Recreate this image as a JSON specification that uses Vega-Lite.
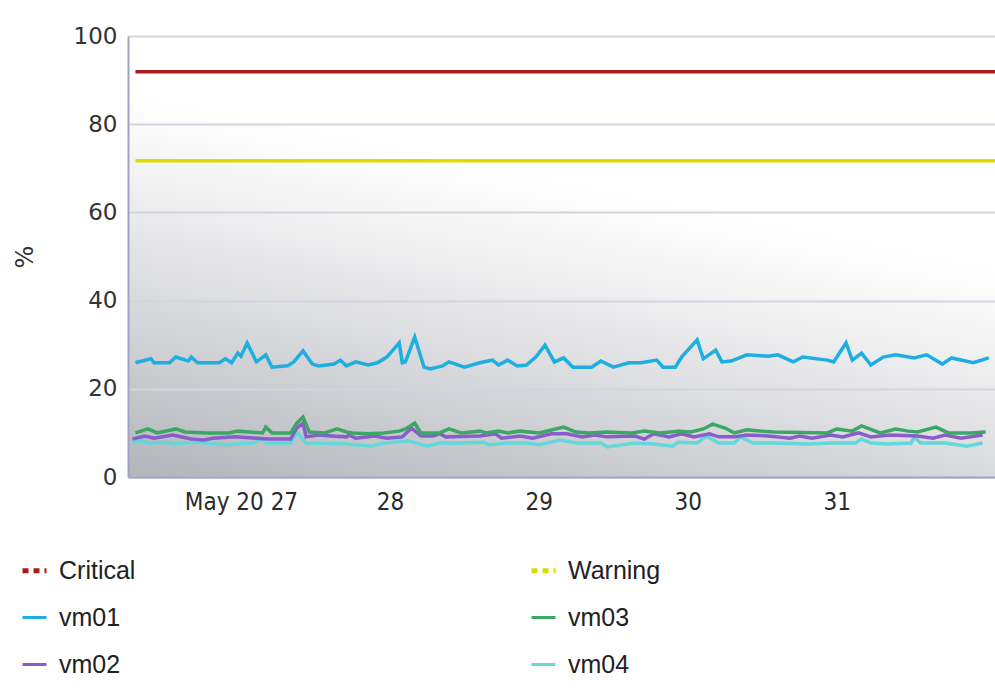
{
  "$schema": "https://vega.github.io/schema/vega-lite/v6.json",
  "width": 867,
  "height": 441,
  "autosize": {"type": "none"},
  "padding": {"left": 128, "top": 36, "right": 0, "bottom": 215},
  "background": "white",
  "config": {
    "view": {
      "stroke": null,
      "fill": {"gradient": "linear", "x1": 0, "y1": 1, "x2": 0.4, "y2": 0,
        "stops": [
          {"offset": 0, "color": "#b2b5bb"},
          {"offset": 0.35, "color": "#d9dadd"},
          {"offset": 0.6, "color": "#f3f3f4"},
          {"offset": 0.75, "color": "#ffffff"}
        ]}
    },
    "font": "Liberation Sans"
  },
  "data": {"values": [
    {"s":"Critical","t":"2027-05-26T07:00","v":91.9},{"s":"Critical","t":"2027-06-01T01:30","v":91.9},
    {"s":"Warning","t":"2027-05-26T07:00","v":71.7},{"s":"Warning","t":"2027-06-01T01:30","v":71.7},
    {"s":"vm04","t":"2027-05-26T06:30","v":7.7},{"s":"vm04","t":"2027-05-26T08:00","v":8.2},{"s":"vm04","t":"2027-05-26T09:30","v":7.7},{"s":"vm04","t":"2027-05-26T12:00","v":7.9},{"s":"vm04","t":"2027-05-26T13:00","v":7.5},{"s":"vm04","t":"2027-05-26T16:00","v":7.9},{"s":"vm04","t":"2027-05-26T18:30","v":7.7},{"s":"vm04","t":"2027-05-26T21:30","v":7.3},
    {"s":"vm04","t":"2027-05-27T02:00","v":7.7},{"s":"vm04","t":"2027-05-27T03:30","v":8.6},{"s":"vm04","t":"2027-05-27T04:00","v":7.7},{"s":"vm04","t":"2027-05-27T08:00","v":7.7},{"s":"vm04","t":"2027-05-27T09:00","v":10.2},{"s":"vm04","t":"2027-05-27T10:30","v":7.7},{"s":"vm04","t":"2027-05-27T17:00","v":7.5},{"s":"vm04","t":"2027-05-27T21:00","v":7.0},{"s":"vm04","t":"2027-05-27T23:00","v":7.7},
    {"s":"vm04","t":"2027-05-28T03:00","v":8.2},{"s":"vm04","t":"2027-05-28T06:00","v":7.0},{"s":"vm04","t":"2027-05-28T08:00","v":7.7},{"s":"vm04","t":"2027-05-28T11:30","v":7.7},{"s":"vm04","t":"2027-05-28T15:00","v":7.9},{"s":"vm04","t":"2027-05-28T16:00","v":7.3},{"s":"vm04","t":"2027-05-28T19:00","v":7.7},{"s":"vm04","t":"2027-05-28T22:00","v":7.7},
    {"s":"vm04","t":"2027-05-29T00:00","v":7.3},{"s":"vm04","t":"2027-05-29T02:00","v":7.9},{"s":"vm04","t":"2027-05-29T03:30","v":8.4},{"s":"vm04","t":"2027-05-29T06:00","v":7.7},{"s":"vm04","t":"2027-05-29T10:00","v":7.7},{"s":"vm04","t":"2027-05-29T11:00","v":6.8},{"s":"vm04","t":"2027-05-29T15:30","v":7.7},{"s":"vm04","t":"2027-05-29T18:30","v":7.5},{"s":"vm04","t":"2027-05-29T21:30","v":7.0},{"s":"vm04","t":"2027-05-29T22:30","v":7.9},
    {"s":"vm04","t":"2027-05-30T01:30","v":7.7},{"s":"vm04","t":"2027-05-30T03:00","v":9.3},{"s":"vm04","t":"2027-05-30T05:00","v":7.7},{"s":"vm04","t":"2027-05-30T07:30","v":7.7},{"s":"vm04","t":"2027-05-30T08:30","v":9.1},{"s":"vm04","t":"2027-05-30T10:30","v":7.7},{"s":"vm04","t":"2027-05-30T14:00","v":7.7},{"s":"vm04","t":"2027-05-30T19:30","v":7.5},{"s":"vm04","t":"2027-05-30T23:00","v":7.7},
    {"s":"vm04","t":"2027-05-31T03:00","v":7.7},{"s":"vm04","t":"2027-05-31T04:00","v":8.6},{"s":"vm04","t":"2027-05-31T05:30","v":7.7},{"s":"vm04","t":"2027-05-31T08:00","v":7.5},{"s":"vm04","t":"2027-05-31T12:00","v":7.7},{"s":"vm04","t":"2027-05-31T12:30","v":9.1},{"s":"vm04","t":"2027-05-31T13:30","v":7.7},{"s":"vm04","t":"2027-05-31T17:30","v":7.7},{"s":"vm04","t":"2027-05-31T21:00","v":7.0},{"s":"vm04","t":"2027-05-31T23:30","v":7.7},
    {"s":"vm02","t":"2027-05-26T06:30","v":8.6},{"s":"vm02","t":"2027-05-26T08:30","v":9.3},{"s":"vm02","t":"2027-05-26T10:00","v":8.8},{"s":"vm02","t":"2027-05-26T13:00","v":9.5},{"s":"vm02","t":"2027-05-26T16:00","v":8.6},{"s":"vm02","t":"2027-05-26T18:00","v":8.4},{"s":"vm02","t":"2027-05-26T19:30","v":8.8},{"s":"vm02","t":"2027-05-26T23:00","v":9.1},
    {"s":"vm02","t":"2027-05-27T02:30","v":8.8},{"s":"vm02","t":"2027-05-27T04:30","v":8.6},{"s":"vm02","t":"2027-05-27T08:00","v":8.6},{"s":"vm02","t":"2027-05-27T09:00","v":11.1},{"s":"vm02","t":"2027-05-27T10:00","v":12.2},{"s":"vm02","t":"2027-05-27T10:30","v":9.1},{"s":"vm02","t":"2027-05-27T12:30","v":9.5},{"s":"vm02","t":"2027-05-27T14:30","v":9.3},{"s":"vm02","t":"2027-05-27T17:00","v":9.1},{"s":"vm02","t":"2027-05-27T17:30","v":9.5},{"s":"vm02","t":"2027-05-27T18:30","v":8.8},{"s":"vm02","t":"2027-05-27T21:30","v":9.3},{"s":"vm02","t":"2027-05-27T23:30","v":8.8},
    {"s":"vm02","t":"2027-05-28T02:00","v":9.1},{"s":"vm02","t":"2027-05-28T03:30","v":11.1},{"s":"vm02","t":"2027-05-28T05:00","v":9.3},{"s":"vm02","t":"2027-05-28T07:00","v":9.3},{"s":"vm02","t":"2027-05-28T08:00","v":9.8},{"s":"vm02","t":"2027-05-28T09:00","v":9.1},{"s":"vm02","t":"2027-05-28T14:30","v":9.3},{"s":"vm02","t":"2027-05-28T17:00","v":9.8},{"s":"vm02","t":"2027-05-28T18:00","v":8.8},{"s":"vm02","t":"2027-05-28T21:00","v":9.3},{"s":"vm02","t":"2027-05-28T23:00","v":8.8},
    {"s":"vm02","t":"2027-05-29T02:00","v":9.8},{"s":"vm02","t":"2027-05-29T04:30","v":9.8},{"s":"vm02","t":"2027-05-29T07:00","v":9.1},{"s":"vm02","t":"2027-05-29T09:00","v":9.5},{"s":"vm02","t":"2027-05-29T11:00","v":9.1},{"s":"vm02","t":"2027-05-29T15:30","v":9.3},{"s":"vm02","t":"2027-05-29T17:00","v":8.6},{"s":"vm02","t":"2027-05-29T18:30","v":9.8},{"s":"vm02","t":"2027-05-29T21:00","v":9.1},{"s":"vm02","t":"2027-05-29T23:00","v":9.8},
    {"s":"vm02","t":"2027-05-30T01:00","v":9.1},{"s":"vm02","t":"2027-05-30T03:30","v":9.8},{"s":"vm02","t":"2027-05-30T05:00","v":9.1},{"s":"vm02","t":"2027-05-30T07:30","v":9.1},{"s":"vm02","t":"2027-05-30T09:30","v":9.5},{"s":"vm02","t":"2027-05-30T13:00","v":9.3},{"s":"vm02","t":"2027-05-30T16:30","v":8.8},{"s":"vm02","t":"2027-05-30T18:00","v":9.3},{"s":"vm02","t":"2027-05-30T20:00","v":8.8},{"s":"vm02","t":"2027-05-30T23:00","v":9.5},
    {"s":"vm02","t":"2027-05-31T01:00","v":9.1},{"s":"vm02","t":"2027-05-31T03:30","v":10.0},{"s":"vm02","t":"2027-05-31T05:30","v":9.1},{"s":"vm02","t":"2027-05-31T08:30","v":9.5},{"s":"vm02","t":"2027-05-31T13:00","v":9.3},{"s":"vm02","t":"2027-05-31T15:30","v":8.8},{"s":"vm02","t":"2027-05-31T17:30","v":9.5},{"s":"vm02","t":"2027-05-31T20:00","v":8.8},{"s":"vm02","t":"2027-05-31T23:30","v":9.5},
    {"s":"vm03","t":"2027-05-26T07:00","v":10.0},{"s":"vm03","t":"2027-05-26T09:00","v":10.9},{"s":"vm03","t":"2027-05-26T10:30","v":10.0},{"s":"vm03","t":"2027-05-26T13:30","v":10.9},{"s":"vm03","t":"2027-05-26T15:00","v":10.2},{"s":"vm03","t":"2027-05-26T18:30","v":10.0},{"s":"vm03","t":"2027-05-26T22:00","v":10.0},{"s":"vm03","t":"2027-05-26T23:30","v":10.4},
    {"s":"vm03","t":"2027-05-27T03:30","v":10.0},{"s":"vm03","t":"2027-05-27T04:00","v":11.3},{"s":"vm03","t":"2027-05-27T05:00","v":10.0},{"s":"vm03","t":"2027-05-27T08:00","v":10.0},{"s":"vm03","t":"2027-05-27T09:00","v":12.2},{"s":"vm03","t":"2027-05-27T10:00","v":13.6},{"s":"vm03","t":"2027-05-27T11:00","v":10.2},{"s":"vm03","t":"2027-05-27T13:30","v":10.0},{"s":"vm03","t":"2027-05-27T15:30","v":10.9},{"s":"vm03","t":"2027-05-27T17:00","v":10.2},{"s":"vm03","t":"2027-05-27T18:00","v":10.0},{"s":"vm03","t":"2027-05-27T20:30","v":9.8},{"s":"vm03","t":"2027-05-27T23:00","v":10.0},
    {"s":"vm03","t":"2027-05-28T01:30","v":10.4},{"s":"vm03","t":"2027-05-28T02:30","v":10.9},{"s":"vm03","t":"2027-05-28T04:00","v":12.2},{"s":"vm03","t":"2027-05-28T05:00","v":10.0},{"s":"vm03","t":"2027-05-28T08:00","v":10.0},{"s":"vm03","t":"2027-05-28T09:30","v":10.9},{"s":"vm03","t":"2027-05-28T11:30","v":10.0},{"s":"vm03","t":"2027-05-28T14:30","v":10.4},{"s":"vm03","t":"2027-05-28T15:30","v":10.0},{"s":"vm03","t":"2027-05-28T17:30","v":10.4},{"s":"vm03","t":"2027-05-28T19:00","v":10.0},{"s":"vm03","t":"2027-05-28T21:00","v":10.4},
    {"s":"vm03","t":"2027-05-29T00:00","v":10.0},{"s":"vm03","t":"2027-05-29T04:00","v":11.3},{"s":"vm03","t":"2027-05-29T06:00","v":10.2},{"s":"vm03","t":"2027-05-29T08:00","v":10.0},{"s":"vm03","t":"2027-05-29T11:00","v":10.2},{"s":"vm03","t":"2027-05-29T15:00","v":10.0},{"s":"vm03","t":"2027-05-29T17:00","v":10.4},{"s":"vm03","t":"2027-05-29T19:30","v":10.0},{"s":"vm03","t":"2027-05-29T22:30","v":10.4},
    {"s":"vm03","t":"2027-05-30T00:30","v":10.2},{"s":"vm03","t":"2027-05-30T02:30","v":10.9},{"s":"vm03","t":"2027-05-30T04:00","v":12.0},{"s":"vm03","t":"2027-05-30T06:00","v":11.1},{"s":"vm03","t":"2027-05-30T07:30","v":10.0},{"s":"vm03","t":"2027-05-30T09:30","v":10.7},{"s":"vm03","t":"2027-05-30T12:00","v":10.4},{"s":"vm03","t":"2027-05-30T14:00","v":10.2},{"s":"vm03","t":"2027-05-30T22:30","v":10.0},
    {"s":"vm03","t":"2027-05-31T00:00","v":10.9},{"s":"vm03","t":"2027-05-31T02:30","v":10.4},{"s":"vm03","t":"2027-05-31T04:00","v":11.6},{"s":"vm03","t":"2027-05-31T07:00","v":10.0},{"s":"vm03","t":"2027-05-31T09:30","v":10.9},{"s":"vm03","t":"2027-05-31T11:30","v":10.4},{"s":"vm03","t":"2027-05-31T13:00","v":10.2},{"s":"vm03","t":"2027-05-31T16:00","v":11.3},{"s":"vm03","t":"2027-05-31T18:00","v":10.0},{"s":"vm03","t":"2027-05-31T21:30","v":10.0},{"s":"vm03","t":"2027-06-01T00:00","v":10.2},
    {"s":"vm01","t":"2027-05-26T07:00","v":25.9},{"s":"vm01","t":"2027-05-26T09:30","v":26.8},{"s":"vm01","t":"2027-05-26T10:00","v":25.9},{"s":"vm01","t":"2027-05-26T12:30","v":25.9},{"s":"vm01","t":"2027-05-26T13:30","v":27.2},{"s":"vm01","t":"2027-05-26T15:30","v":26.3},{"s":"vm01","t":"2027-05-26T16:00","v":27.2},{"s":"vm01","t":"2027-05-26T17:00","v":25.9},{"s":"vm01","t":"2027-05-26T20:30","v":25.9},{"s":"vm01","t":"2027-05-26T21:30","v":26.8},{"s":"vm01","t":"2027-05-26T22:30","v":25.9},{"s":"vm01","t":"2027-05-26T23:30","v":28.1},
    {"s":"vm01","t":"2027-05-27T00:00","v":27.4},{"s":"vm01","t":"2027-05-27T01:00","v":30.4},{"s":"vm01","t":"2027-05-27T02:30","v":26.1},{"s":"vm01","t":"2027-05-27T04:00","v":27.7},{"s":"vm01","t":"2027-05-27T05:00","v":24.9},{"s":"vm01","t":"2027-05-27T07:30","v":25.2},{"s":"vm01","t":"2027-05-27T08:30","v":26.1},{"s":"vm01","t":"2027-05-27T10:00","v":28.6},{"s":"vm01","t":"2027-05-27T11:30","v":25.6},{"s":"vm01","t":"2027-05-27T12:30","v":25.2},{"s":"vm01","t":"2027-05-27T15:00","v":25.6},{"s":"vm01","t":"2027-05-27T16:00","v":26.5},{"s":"vm01","t":"2027-05-27T17:00","v":25.2},{"s":"vm01","t":"2027-05-27T18:30","v":26.1},{"s":"vm01","t":"2027-05-27T20:30","v":25.4},{"s":"vm01","t":"2027-05-27T22:00","v":25.9},{"s":"vm01","t":"2027-05-27T23:30","v":27.2},
    {"s":"vm01","t":"2027-05-28T01:30","v":30.4},{"s":"vm01","t":"2027-05-28T02:00","v":25.9},{"s":"vm01","t":"2027-05-28T02:30","v":26.1},{"s":"vm01","t":"2027-05-28T04:00","v":31.7},{"s":"vm01","t":"2027-05-28T05:30","v":24.9},{"s":"vm01","t":"2027-05-28T06:30","v":24.5},{"s":"vm01","t":"2027-05-28T08:30","v":25.2},{"s":"vm01","t":"2027-05-28T09:30","v":26.1},{"s":"vm01","t":"2027-05-28T12:00","v":24.9},{"s":"vm01","t":"2027-05-28T14:30","v":25.9},{"s":"vm01","t":"2027-05-28T16:30","v":26.5},{"s":"vm01","t":"2027-05-28T17:30","v":25.4},{"s":"vm01","t":"2027-05-28T19:00","v":26.5},{"s":"vm01","t":"2027-05-28T20:30","v":25.2},{"s":"vm01","t":"2027-05-28T22:00","v":25.4},{"s":"vm01","t":"2027-05-28T23:30","v":27.2},
    {"s":"vm01","t":"2027-05-29T01:00","v":29.9},{"s":"vm01","t":"2027-05-29T02:30","v":26.1},{"s":"vm01","t":"2027-05-29T04:00","v":27.0},{"s":"vm01","t":"2027-05-29T05:30","v":24.9},{"s":"vm01","t":"2027-05-29T08:30","v":24.9},{"s":"vm01","t":"2027-05-29T10:00","v":26.3},{"s":"vm01","t":"2027-05-29T12:00","v":24.9},{"s":"vm01","t":"2027-05-29T14:30","v":25.9},{"s":"vm01","t":"2027-05-29T16:30","v":25.9},{"s":"vm01","t":"2027-05-29T19:00","v":26.5},{"s":"vm01","t":"2027-05-29T20:00","v":24.9},{"s":"vm01","t":"2027-05-29T22:00","v":24.9},{"s":"vm01","t":"2027-05-29T23:00","v":27.2},
    {"s":"vm01","t":"2027-05-30T01:30","v":31.1},{"s":"vm01","t":"2027-05-30T02:30","v":26.8},{"s":"vm01","t":"2027-05-30T04:30","v":28.8},{"s":"vm01","t":"2027-05-30T05:30","v":26.1},{"s":"vm01","t":"2027-05-30T07:00","v":26.3},{"s":"vm01","t":"2027-05-30T09:30","v":27.7},{"s":"vm01","t":"2027-05-30T13:00","v":27.4},{"s":"vm01","t":"2027-05-30T14:30","v":27.7},{"s":"vm01","t":"2027-05-30T17:00","v":26.1},{"s":"vm01","t":"2027-05-30T18:30","v":27.2},{"s":"vm01","t":"2027-05-30T22:30","v":26.5},{"s":"vm01","t":"2027-05-30T23:30","v":26.1},
    {"s":"vm01","t":"2027-05-31T01:30","v":30.4},{"s":"vm01","t":"2027-05-31T02:30","v":26.5},{"s":"vm01","t":"2027-05-31T04:00","v":28.1},{"s":"vm01","t":"2027-05-31T05:30","v":25.4},{"s":"vm01","t":"2027-05-31T07:30","v":27.2},{"s":"vm01","t":"2027-05-31T09:30","v":27.7},{"s":"vm01","t":"2027-05-31T12:30","v":27.0},{"s":"vm01","t":"2027-05-31T14:30","v":27.7},{"s":"vm01","t":"2027-05-31T17:00","v":25.6},{"s":"vm01","t":"2027-05-31T18:30","v":27.0},{"s":"vm01","t":"2027-05-31T22:00","v":25.9},{"s":"vm01","t":"2027-06-01T00:30","v":27.0}
  ]},
  "mark": {"type": "line", "strokeWidth": 3.5},
  "encoding": {
    "x": {
      "field": "t", "type": "temporal",
      "scale": {"domain": [{"year": 2027, "month": 5, "date": 26, "hours": 5, "minutes": 48}, {"year": 2027, "month": 6, "date": 1, "hours": 1, "minutes": 30}]},
      "axis": {
        "title": null,
        "values": [{"year": 2027, "month": 5, "date": 27}, {"year": 2027, "month": 5, "date": 28}, {"year": 2027, "month": 5, "date": 29}, {"year": 2027, "month": 5, "date": 30}, {"year": 2027, "month": 5, "date": 31}],
        "labelExpr": "date(datum.value) == 27 ? 'May 20 27' : timeFormat(datum.value, '%d')",
        "ticks": false, "grid": false,
        "labelFont": "Liberation Sans Narrow, DejaVu Sans Condensed, sans-serif",
        "labelFontSize": 24, "labelColor": "#2a2a2a", "labelPadding": 13,
        "labelFlush": false, "labelOverlap": false,
        "domainColor": "#9fa2c6", "domainWidth": 2
      }
    },
    "y": {
      "field": "v", "type": "quantitative",
      "scale": {"domain": [0, 100]},
      "axis": {
        "title": "%", "titleFontSize": 24, "titleFontWeight": "normal", "titleColor": "#333333", "titleFont": "DejaVu Sans", "titlePadding": 36,
        "values": [0, 20, 40, 60, 80, 100],
        "labelFont": "DejaVu Sans", "labelFontSize": 23, "labelColor": "#333333", "labelPadding": 11,
        "ticks": false,
        "domainColor": "#9fa2c6", "domainWidth": 2,
        "gridColor": "#d3d4e0", "gridWidth": 2
      }
    },
    "color": {
      "field": "s", "type": "nominal",
      "scale": {
        "domain": ["Critical", "vm01", "vm02", "Warning", "vm03", "vm04"],
        "range": ["#a81c1c", "#1eaee0", "#8a5ccc", "#dcdc00", "#3aa864", "#62d8d8"]
      },
      "legend": {
        "title": null, "orient": "none", "legendX": -106, "legendY": 522,
        "columns": 2, "columnPadding": 385, "rowPadding": 21,
        "symbolType": "stroke", "symbolSize": 576, "symbolStrokeWidth": 3,
        "labelFont": "Liberation Sans", "labelFontSize": 25, "labelColor": "#222222", "labelOffset": 12,
        "encode": {"symbols": {"update": {
          "strokeDash": {"signal": "datum.label === 'Critical' || datum.label === 'Warning' ? [6, 5] : [1, 0]"},
          "strokeWidth": {"signal": "datum.label === 'Critical' || datum.label === 'Warning' ? 5 : 3"}
        }}}
      }
    }
  }
}
